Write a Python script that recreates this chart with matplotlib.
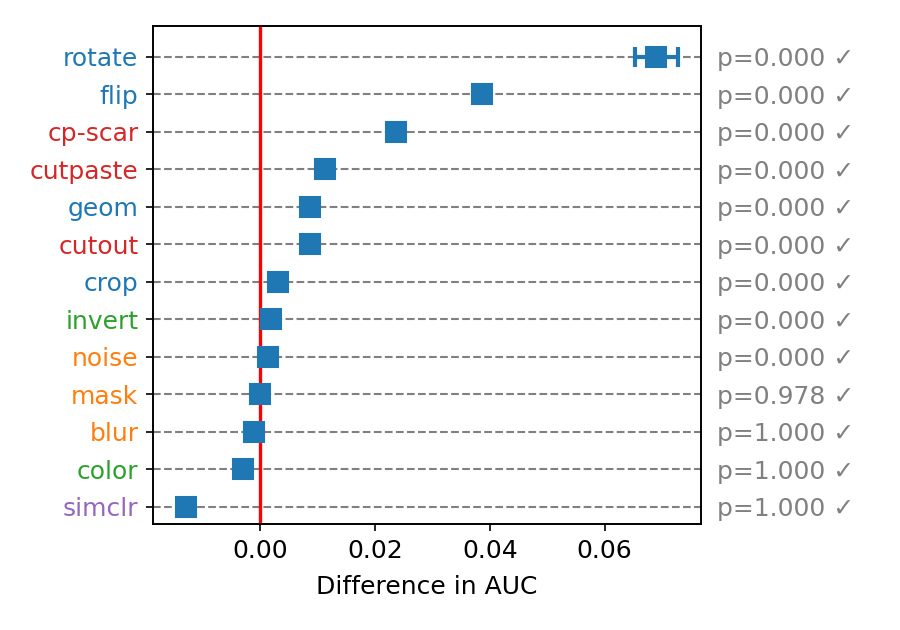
import matplotlib
matplotlib.use("Agg")
import matplotlib.pyplot as plt

plt.rcParams["font.size"] = 12

# data, top to bottom
methods = ["rotate", "flip", "cp-scar", "cutpaste", "geom", "cutout", "crop",
           "invert", "noise", "mask", "blur", "color", "simclr"]
diffs = [0.0690, 0.0386, 0.0236, 0.0112, 0.0087, 0.0087, 0.0030,
         0.0019, 0.0014, 0.0000, -0.0011, -0.0030, -0.0129]
errs = [0.0037, 0.0, 0.0, 0.0, 0.0, 0.0, 0.0,
        0.0, 0.0, 0.0, 0.0, 0.0, 0.0]
pvals = [0.000, 0.000, 0.000, 0.000, 0.000, 0.000, 0.000,
         0.000, 0.000, 0.978, 1.000, 1.000, 1.000]
label_colors = ["tab:blue", "tab:blue", "tab:red", "tab:red", "tab:blue", "tab:red",
                "tab:blue", "tab:green", "tab:orange", "tab:orange", "tab:orange",
                "tab:green", "tab:purple"]

n = len(methods)
ypos = [n - 1 - i for i in range(n)]

fig = plt.figure(figsize=(6, 4.2), dpi=150)
ax = fig.add_axes([0.170, 0.168, 0.609, 0.791])

ax.set_axisbelow(True)
ax.yaxis.grid(True, linestyle="--", color="gray", linewidth=1)
ax.axvline(0.0, color="red", linewidth=1.6, zorder=2)
ax.errorbar(diffs, ypos, xerr=errs, fmt="s", color="tab:blue", markersize=10,
            elinewidth=2, capsize=5, capthick=2, zorder=3)

ax.set_xlim(-0.0187, 0.0768)
ax.set_ylim(-0.46, n - 1 + 0.82)
ax.set_yticks(ypos)
ax.set_yticklabels(methods)
for lbl, c in zip(ax.get_yticklabels(), label_colors):
    lbl.set_color(c)
ax.set_xticks([0.0, 0.02, 0.04, 0.06])
ax.set_xticklabels(["0.00", "0.02", "0.04", "0.06"])
ax.set_xlabel("Difference in AUC", labelpad=6)

ax2 = ax.twinx()
ax2.set_ylim(ax.get_ylim())
ax2.set_yticks(ypos)
ax2.set_yticklabels([f"p={p:.3f} \u2713" for p in pvals])
ax2.tick_params(axis="y", length=0, pad=7.5, colors="gray")

fig.savefig("out.png", dpi=150)
